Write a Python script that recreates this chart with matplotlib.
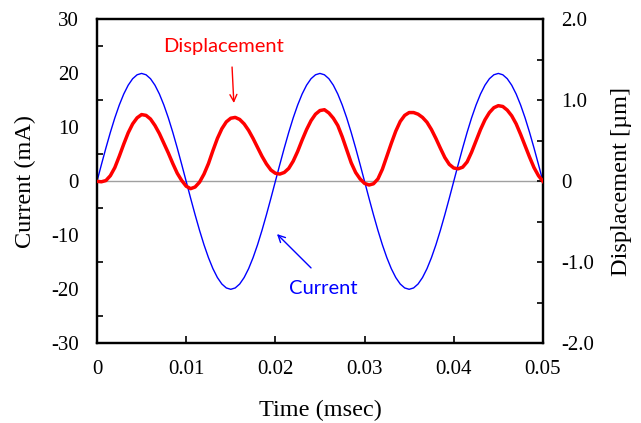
import matplotlib
matplotlib.use("Agg")
import matplotlib.pyplot as plt
from matplotlib.ticker import FixedLocator

# ---- data ----
time_ms = [i * 0.0005 for i in range(101)]

current_mA = [
    0.0, 3.13, 6.18, 9.08, 11.76, 14.14, 16.18, 17.82, 19.02, 19.75,
    20.0, 19.75, 19.02, 17.82, 16.18, 14.14, 11.76, 9.08, 6.18, 3.13,
    0.0, -3.13, -6.18, -9.08, -11.76, -14.14, -16.18, -17.82, -19.02, -19.75,
    -20.0, -19.75, -19.02, -17.82, -16.18, -14.14, -11.76, -9.08, -6.18, -3.13,
    0.0, 3.13, 6.18, 9.08, 11.76, 14.14, 16.18, 17.82, 19.02, 19.75,
    20.0, 19.75, 19.02, 17.82, 16.18, 14.14, 11.76, 9.08, 6.18, 3.13,
    0.0, -3.13, -6.18, -9.08, -11.76, -14.14, -16.18, -17.82, -19.02, -19.75,
    -20.0, -19.75, -19.02, -17.82, -16.18, -14.14, -11.76, -9.08, -6.18, -3.13,
    0.0, 3.13, 6.18, 9.08, 11.76, 14.14, 16.18, 17.82, 19.02, 19.75,
    20.0, 19.75, 19.02, 17.82, 16.18, 14.14, 11.76, 9.08, 6.18, 3.13,
    0.0,
]

displacement_um = [
    0.00, -0.005, 0.01, 0.07, 0.17, 0.31, 0.46, 0.60, 0.71, 0.785,
    0.825, 0.815, 0.77, 0.69, 0.59, 0.47, 0.35, 0.22, 0.10, 0.01,
    -0.06, -0.09, -0.07, -0.01, 0.09, 0.22, 0.38, 0.53, 0.65, 0.735,
    0.78, 0.79, 0.765, 0.71, 0.63, 0.53, 0.42, 0.31, 0.215, 0.14,
    0.10, 0.09, 0.11, 0.16, 0.25, 0.37, 0.51, 0.64, 0.75, 0.83,
    0.875, 0.885, 0.845, 0.78, 0.69, 0.55, 0.39, 0.23, 0.11, 0.03,
    -0.025, -0.045, -0.03, 0.03, 0.15, 0.31, 0.47, 0.62, 0.74, 0.815,
    0.85, 0.85, 0.83, 0.79, 0.73, 0.64, 0.53, 0.41, 0.295, 0.21,
    0.165, 0.155, 0.175, 0.24, 0.36, 0.50, 0.64, 0.76, 0.85, 0.91,
    0.935, 0.925, 0.88, 0.81, 0.71, 0.58, 0.44, 0.30, 0.17, 0.07,
    0.00,
]

x_ticks = [0, 0.01, 0.02, 0.03, 0.04, 0.05]
x_tick_labels = ["0", "0.01", "0.02", "0.03", "0.04", "0.05"]
left_ticks = [-30, -20, -10, 0, 10, 20, 30]
left_tick_labels = ["-30", "-20", "-10", "0", "10", "20", "30"]
right_ticks = [-2.0, -1.0, 0.0, 1.0, 2.0]
right_tick_labels = ["-2.0", "-1.0", "0", "1.0", "2.0"]

serif = "Liberation Serif"

fig = plt.figure(figsize=(6.41, 4.23), dpi=100)
ax = fig.add_axes([0.1513, 0.1885, 0.6957, 0.7655])
ax2 = ax.twinx()

ax.axhline(0, color="#a0a0a0", lw=1.0, zorder=1)
ax.plot(time_ms, current_mA, color="#0000ff", lw=1.0, zorder=2)
ax2.plot(time_ms, displacement_um, color="#ff0000", lw=2.5, zorder=3,
         solid_joinstyle="round")

ax.set_xlim(0, 0.05)
ax.set_ylim(-30, 30)
ax2.set_ylim(-2.0, 2.0)

ax.set_xticks(x_ticks)
ax.set_xticklabels(x_tick_labels, fontfamily=serif, fontsize=15)
ax.set_yticks(left_ticks)
ax.set_yticklabels(left_tick_labels, fontfamily=serif, fontsize=15)
ax.yaxis.set_minor_locator(FixedLocator([-25, -15, -5, 5, 15, 25]))
ax.tick_params(axis="y", which="major", length=0, pad=13)
ax.tick_params(axis="y", which="minor", direction="in", length=4, width=1.2)
ax.tick_params(axis="x", which="major", direction="in", length=5, width=1.2, pad=12, top=False)

ax2.set_yticks(right_ticks)
ax2.set_yticklabels(right_tick_labels, fontfamily=serif, fontsize=15)
ax2.yaxis.set_minor_locator(FixedLocator([-1.5, -0.5, 0.5, 1.5]))
ax2.tick_params(axis="y", which="both", direction="in", length=4, width=1.2, pad=13)

for a in (ax, ax2):
    for s in a.spines.values():
        s.set_linewidth(1.6)
        s.set_color("black")

ax.set_xlabel("Time (msec)", fontfamily=serif, fontsize=17.5, labelpad=15)
ax.set_ylabel("Current (mA)", fontfamily=serif, fontsize=17.5, labelpad=11)
ax2.set_ylabel("Displacement [\u00b5m]", fontfamily=serif, fontsize=17.5, labelpad=12)

ax.annotate("", xy=(0.01536, 14.0), xytext=(0.01513, 21.7),
            arrowprops=dict(arrowstyle="->,head_length=0.5,head_width=0.25", color="#ff0000", lw=1.0),
            zorder=5)
ax.text(0.01424, 24.9, "Displacement", color="#ff0000", fontfamily="Lato",
        fontsize=14.5, ha="center", va="center", zorder=5)
ax.annotate("", xy=(0.01996, -9.4), xytext=(0.02422, -16.4),
            arrowprops=dict(arrowstyle="->,head_length=0.5,head_width=0.25", color="#0000ff", lw=1.0),
            zorder=5)
ax.text(0.02534, -19.9, "Current", color="#0000ff", fontfamily="Lato",
        fontsize=14.5, ha="center", va="center", zorder=5)

ax2.set_zorder(ax.get_zorder() + 1)
ax2.patch.set_visible(False)

fig.savefig("out.png", dpi=100)
